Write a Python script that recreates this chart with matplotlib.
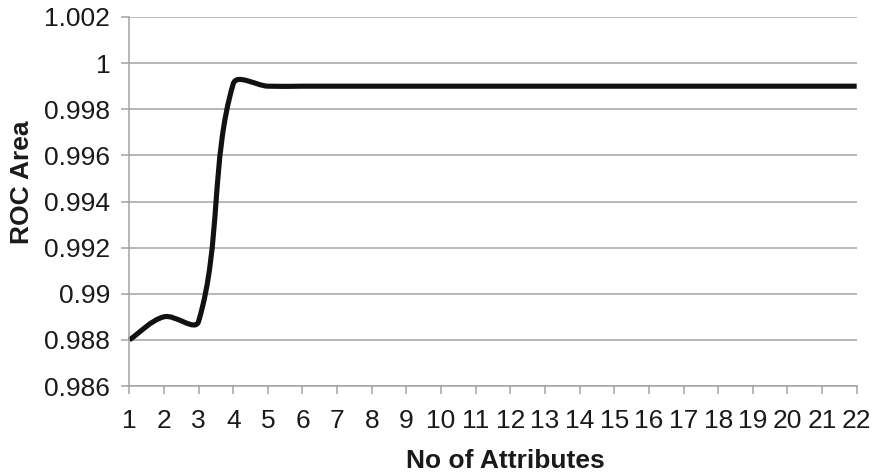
import numpy as np
import matplotlib
matplotlib.use("Agg")
import matplotlib.pyplot as plt
from matplotlib.path import Path
from matplotlib.patches import PathPatch

# values
n_attributes = list(range(1, 23))
roc_area = [0.988, 0.989, 0.9888, 0.9991, 0.999] + [0.999] * 17
y_ticks = [0.986, 0.988, 0.99, 0.992, 0.994, 0.996, 0.998, 1.0, 1.002]
y_tick_labels = ["0.986", "0.988", "0.99", "0.992", "0.994", "0.996", "0.998", "1", "1.002"]

plt.rcParams['font.family'] = ['Liberation Sans', 'DejaVu Sans']
grey = '#a3a3a3'
ink = '#1a1a1a'

fig = plt.figure(figsize=(8.78, 4.74), dpi=100)
ax = fig.add_axes([129.3 / 878, 1 - 386 / 474, 727.4 / 878, 369 / 474])
ax.set_xlim(1, 22)
ax.set_ylim(0.986, 1.002)

ax.set_yticks(y_ticks)
ax.set_yticklabels(y_tick_labels)
ax.set_xticks(n_attributes)
ax.set_xticklabels([str(v) for v in n_attributes])
ax.grid(axis='y', color=grey, lw=1.1)
ax.set_axisbelow(True)
for side in ['top', 'right']:
    ax.spines[side].set_visible(False)
for side in ['left', 'bottom']:
    ax.spines[side].set_color(grey)
    ax.spines[side].set_linewidth(1.1)
ax.tick_params(axis='both', colors=grey, labelcolor=ink, length=5.8, width=1.1,
               labelsize=19)
ax.tick_params(axis='y', pad=8)
ax.tick_params(axis='x', pad=10.5)

ax.set_xlabel('No of Attributes', fontsize=19, fontweight='bold', color=ink)
ax.set_ylabel('ROC Area', fontsize=19, fontweight='bold', color=ink)
ax.xaxis.set_label_coords(0.5165, -0.2025)
ax.yaxis.set_label_coords(-0.1475, 0.553)
ax.xaxis.label.set_va('center')
ax.yaxis.label.set_va('center')

# smoothed line like the spreadsheet's, bezier controls worked out in pixel space
pts = ax.transData.transform(np.column_stack([n_attributes, roc_area]))
k = len(pts)
dirs = []
for i in range(k):
    d = pts[min(i + 1, k - 1)] - pts[max(i - 1, 0)]
    dirs.append(d / np.hypot(*d))
verts = [pts[0]]
codes = [Path.MOVETO]
for i in range(k - 1):
    seg = np.hypot(*(pts[i + 1] - pts[i])) / 3
    verts += [pts[i] + dirs[i] * seg, pts[i + 1] - dirs[i + 1] * seg, pts[i + 1]]
    codes += [Path.CURVE4] * 3
verts = ax.transData.inverted().transform(np.array(verts))
ax.add_patch(PathPatch(Path(verts, codes), fill=False, edgecolor='#111111',
                       lw=3.7, capstyle='butt', joinstyle='round', clip_on=False))

fig.savefig('out.png', dpi=100)
